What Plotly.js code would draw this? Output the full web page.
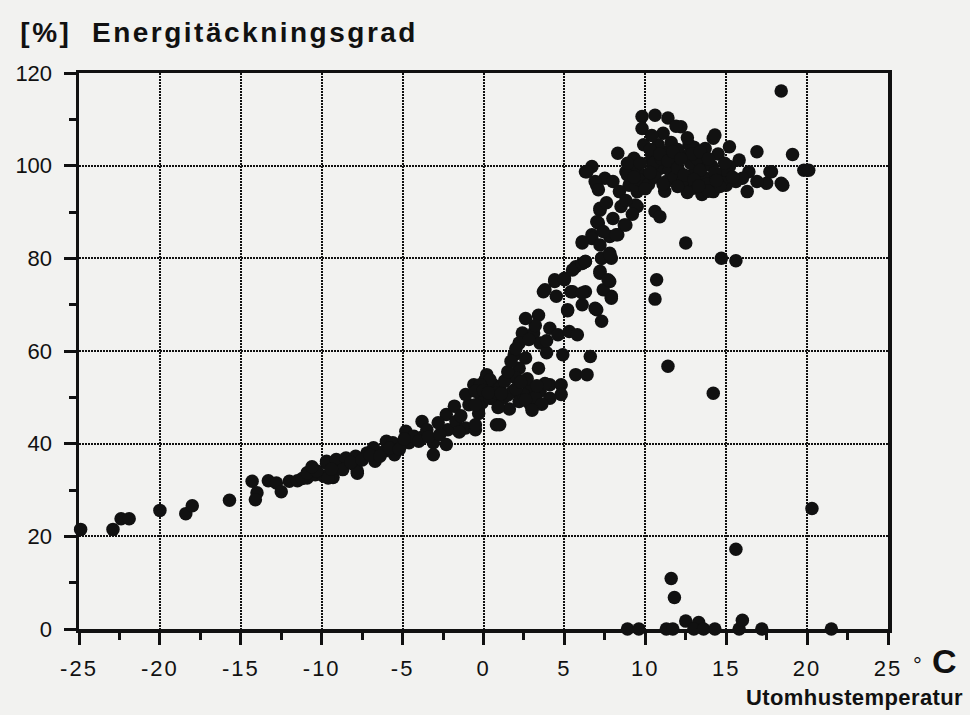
<!DOCTYPE html>
<html>
<head>
<meta charset="utf-8">
<script src="https://cdn.plot.ly/plotly-3.0.1.min.js"></script>
<style>
  html, body { margin: 0; padding: 0; background: #f2f2f0; }
  #chart { width: 970px; height: 715px; }
  /* slightly open letter spacing of the printed figure */
  .xtick text { letter-spacing: 2px; }
  .gtitle { letter-spacing: 2.5px; }
  .annotation-text { letter-spacing: 0.4px; }
</style>
</head>
<body>
<div id="chart"></div>
<script>
// Daily values: outdoor temperature (°C) and energy coverage ratio (%)

// cold days, -25 .. -8 °C
const kallaTemp = [-24.9,-22.9,-22.4,-21.9,-20.0,-18.4,-18.0,-15.7,-14.3,-14.0,-14.1,-13.3,-12.8,-12.5,-12.0,-11.5,-10.9,-10.4,-9.9,-9.7,-9.1,-8.5,-8.0,-7.8,-11.2,-9.3];
const kallaGrad = [21.5,21.5,23.8,23.8,25.6,24.9,26.6,27.8,31.9,29.4,27.9,32.0,31.5,29.6,31.9,32.0,32.6,33.3,33.0,35.8,35.8,36.2,35.5,33.6,32.5,32.7];

// around freezing, -11 .. 1 °C
const nollTemp = [-10.9,-10.3,-9.6,-9.7,-9.1,-8.5,-8.7,-7.9,-7.8,-7.2,-6.8,-6.7,-6.1,-6.0,-5.6,-5.5,-4.8,-4.6,-4.3,-3.8,-3.7,-3.1,-3.1,-3.5,-2.3,-2.2,-2.3,-1.8,-1.7,-1.1,-0.5,-0.9,-1.1,-0.6,0.1,0.6,0.5,-0.1,-0.2,0.8,0.2,-10.6,-9.4,-8.2,-7.5,-7.0,-6.4,-5.8,-5.2,-4.9,-4.0,-3.4,-2.7,-2.8,-1.4,-1.5,-0.3];
const nollGrad = [33.7,34.1,32.6,36.2,36.6,36.9,34.4,37.3,34.1,38.0,39.1,36.2,38.4,40.5,40.2,37.6,42.7,40.2,41.6,44.8,41.6,40.2,37.6,43.0,46.3,43.0,39.8,48.1,44.8,43.4,43.0,48.4,50.6,52.7,53.8,52.7,49.8,48.8,50.6,44.1,54.9,35.0,34.5,36.0,36.5,37.5,37.3,39.0,38.8,41.0,40.5,41.5,42.0,44.5,46.0,42.5,46.5];

// mild days, 0 .. 8 °C
const mildTemp = [6.3,5.7,7.3,7.9,7.2,7.8,7.9,7.4,4.4,5.0,3.7,4.5,5.4,6.3,6.1,7.0,7.3,5.2,3.4,4.1,4.6,5.3,5.8,2.4,3.1,3.5,2.2,3.9,1.9,2.6,4.9,6.6,5.7,6.4,3.4,2.2,2.0,0.4,-0.2,1.0,4.1,4.8,4.8,3.5,2.8,1.8,1.2,0.4,-0.5,-0.5,2.2,2.9,4.1,-0.5,1.0,0.8,1.5,2.5,3.2,1.3,2.7,3.8,0.0,1.6,3.6,3.8,4.4,5.0,5.5,6.1,5.5,6.1,7.2,7.8,7.3,7.7,7.9,6.9,5.2,0.3,1.1,2.0,2.6,3.3,1.5,2.3,0.9,3.0,2.0,2.8,3.2,2.6,1.7,3.9];
const mildGrad = [79.3,78.2,80.0,80.0,76.8,75.0,71.8,73.2,75.0,75.7,72.8,71.8,72.8,72.8,70.0,68.9,66.4,68.7,67.7,64.9,63.5,64.2,63.5,63.9,63.9,61.7,61.7,59.6,59.2,58.5,59.2,58.8,54.9,54.9,56.3,56.3,54.2,53.8,52.7,52.0,52.7,52.7,50.6,51.3,52.0,51.3,49.8,49.8,51.3,48.4,49.1,48.4,49.8,44.1,44.1,51.0,50.5,50.5,50.0,53.5,54.0,53.0,51.5,47.5,48.5,73.2,75.4,75.4,77.5,78.9,72.8,72.5,77.2,81.1,80.0,75.4,71.4,69.2,68.9,51.0,50.8,51.8,49.5,52.5,55.5,53.3,47.8,47.2,60.5,62.5,65.5,67.0,57.8,62.2];

// spring/autumn days, 6 .. 11 °C
const varTemp = [6.1,6.7,7.1,7.8,8.3,8.7,7.2,6.7,6.3,7.5,7.0,8.0,8.8,9.0,8.4,9.5,7.2,7.0,8.0,8.8,8.5,9.5,8.2,7.4,6.7,6.1,7.2,6.3,7.8,10.6,10.9,8.3,9.3,9.4,10.0,6.4,6.9,7.1,8.9,9.4,9.4,8.8,9.2,7.6];
const varGrad = [83.6,85.1,87.6,84.7,85.1,87.2,90.4,99.8,98.7,97.3,95.8,96.6,98.7,95.8,94.4,94.4,90.8,87.9,88.6,87.2,91.2,91.2,85.1,85.8,84.3,83.3,82.9,79.3,80.8,90.1,89.0,102.7,101.6,99.4,98.0,98.7,96.6,94.8,98.0,95.8,91.5,92.5,89.5,92.0];

// warm days, 9 .. 20 °C
const varmTemp = [9.8,10.6,11.4,12.2,11.1,9.9,10.4,11.3,11.9,10.9,11.3,12.1,12.9,12.9,13.7,14.2,13.7,12.7,14.2,14.3,15.2,15.8,16.4,17.8,18.4,17.5,16.9,16.3,15.6,14.6,13.7,15.2,16.0,15.0,17.7,18.5,16.9,19.1,19.8,20.1,9.6,10.2,10.5,11.0,11.5,11.8,12.3,12.5,12.8,13.2,13.4,13.8,14.1,14.5,14.8,10.8,11.6,12.0,13.0,9.3,10.0,11.2,12.6,13.5,15.0,15.4,14.6,9.8,10.4,8.9,10.3,10.9,11.4,12.0,12.4,12.9,13.4,13.9,14.3,14.9,11.7,12.6,10.6,11.1,12.0,13.0,13.9,14.4,9.7,10.3,11.9,13.3,12.2];
const varmGrad = [110.6,110.9,110.3,108.4,107.0,104.5,101.6,103.0,100.9,99.4,96.6,98.7,95.1,98.0,97.3,94.4,103.7,104.5,105.9,106.6,104.1,101.2,98.7,98.7,96.2,96.2,96.6,94.4,96.6,98.0,100.1,99.8,97.3,95.8,98.7,95.8,103.0,102.4,99.0,99.0,97.0,96.0,100.5,101.5,99.0,97.5,96.5,102.0,100.5,101.5,99.0,96.0,100.0,102.5,97.0,104.5,105.0,103.5,104.0,97.5,95.0,94.5,94.2,93.8,99.0,97.5,95.5,108.0,106.5,100.5,103.5,102.5,101.0,99.5,98.0,102.5,103.0,101.5,98.5,100.5,103.0,106.0,97.5,96.0,95.5,97.0,94.5,96.8,100.5,98.5,108.5,95.6,101.5];

// scattered days outside the main band
const spridTemp = [10.7,10.6,11.4,14.2,14.7,15.6,18.4,20.3,15.6,11.6,11.8,12.5];
const spridGrad = [75.4,71.2,56.7,50.9,80.0,79.5,116.1,26.0,17.2,10.9,6.8,83.3];

// days with no coverage at all
const nollDagTemp = [8.9,9.6,11.3,11.7,12.5,13.3,13.0,13.6,14.3,15.8,16.0,17.2,21.5];
const nollDagGrad = [0,0,0,0,1.7,1.4,0,0,0,0,1.9,0,0];

const xTicks = [-25,-20,-15,-10,-5,0,5,10,15,20,25];
const yTicks = [0,20,40,60,80,100,120];

const temp = [].concat(kallaTemp, nollTemp, mildTemp, varTemp, varmTemp, spridTemp, nollDagTemp);
const grad = [].concat(kallaGrad, nollGrad, mildGrad, varGrad, varmGrad, spridGrad, nollDagGrad);

const ink = '#111111';
const bg = '#f2f2f0';
const font = 'Liberation Sans, Arial, Helvetica, sans-serif';

const trace = {
  type: 'scatter',
  mode: 'markers',
  x: temp,
  y: grad,
  cliponaxis: false,
  marker: { size: 13.5, color: ink, line: { width: 0 } },
  hoverinfo: 'x+y'
};

const axisCommon = {
  showline: true,
  linewidth: 3.5,
  linecolor: ink,
  mirror: true,
  showgrid: true,
  gridcolor: ink,
  gridwidth: 2,
  griddash: '1.5px,1.5px',
  zeroline: false,
  ticks: 'outside',
  ticklen: 12,
  tickwidth: 3,
  tickcolor: ink,
  tickmode: 'array'
};

const layout = {
  width: 970,
  height: 715,
  margin: { l: 79, r: 82, t: 73, b: 86 },
  paper_bgcolor: bg,
  plot_bgcolor: bg,
  showlegend: false,
  title: {
    text: '[%]\u00a0\u00a0Energitäckningsgrad',
    font: { family: font, size: 28, color: ink, weight: 'bold' },
    xref: 'container', x: 0.021, xanchor: 'left',
    yref: 'container', y: 0.955, yanchor: 'middle'
  },
  xaxis: Object.assign({}, axisCommon, {
    range: [-25, 25],
    tickvals: xTicks,
    ticktext: xTicks.map(String),
    tickfont: { family: font, size: 22, color: ink },
    ticklabelstandoff: 5,
    minor: { dtick: 2.5, tick0: -25, ticks: 'outside', ticklen: 7, tickwidth: 3, tickcolor: ink, showgrid: false }
  }),
  yaxis: Object.assign({}, axisCommon, {
    range: [0, 120],
    tickvals: yTicks,
    ticktext: yTicks.map(String),
    tickfont: { family: font, size: 22, color: ink },
    ticklabelstandoff: 7,
    minor: { dtick: 10, tick0: 0, ticks: 'outside', ticklen: 7, tickwidth: 3, tickcolor: ink, showgrid: false }
  }),
  annotations: [
    {
      text: '<span style="font-size:22px">°</span> <b>C</b>',
      xref: 'paper', yref: 'paper',
      x: 1.029, y: -0.058, xanchor: 'left', yanchor: 'middle',
      showarrow: false,
      font: { family: font, size: 34, color: ink }
    },
    {
      text: '<b>Utomhustemperatur</b>',
      xref: 'paper', yref: 'paper',
      x: 1.095, y: -0.124, xanchor: 'right', yanchor: 'middle',
      showarrow: false,
      font: { family: font, size: 22, color: ink }
    }
  ]
};

Plotly.newPlot('chart', [trace], layout, { displayModeBar: false, staticPlot: true });
</script>
</body>
</html>
